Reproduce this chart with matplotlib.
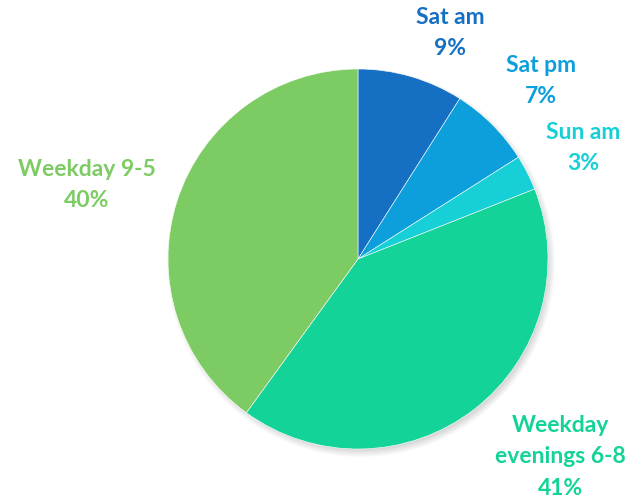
import matplotlib.pyplot as plt
from matplotlib.patches import Circle

labels = ["Sat am", "Sat pm", "Sun am", "Weekday\nevenings 6-8", "Weekday 9-5"]
shares = [9, 7, 3, 41, 40]
colors = ["#1570C4", "#0C9FDB", "#17CFD6", "#13D398", "#7DCB63"]

# label anchors in pixel coords (x, y from top)
label_pos = [(450, 33), (541, 81), (583, 148), (560, 457), (87, 185)]

W, H = 633, 502
fig = plt.figure(figsize=(W / 100, H / 100), dpi=100)
ax = fig.add_axes([0, 0, 1, 1])

cx, cy, r = 358, H - 260, 190

# soft shadow
for i in range(8):
    ax.add_patch(Circle((cx + 3, cy - 4), r + 4 - i, color="#000000", alpha=0.018, lw=0))

ax.pie(shares, colors=colors, startangle=90, counterclock=False,
       center=(cx, cy), radius=r, frame=True,
       wedgeprops=dict(edgecolor="white", linewidth=0.4))
ax.set_xlim(0, W)
ax.set_ylim(0, H)
ax.set_aspect("equal")
ax.axis("off")

for lab, val, col, (x, y) in zip(labels, shares, colors, label_pos):
    ax.text(x, H - y, f"{lab}\n{val}%", color=col, ha="center", va="center",
            fontsize=16.5, fontweight="bold", family="Lato", linespacing=1.6)

fig.savefig("out.png", dpi=100)
